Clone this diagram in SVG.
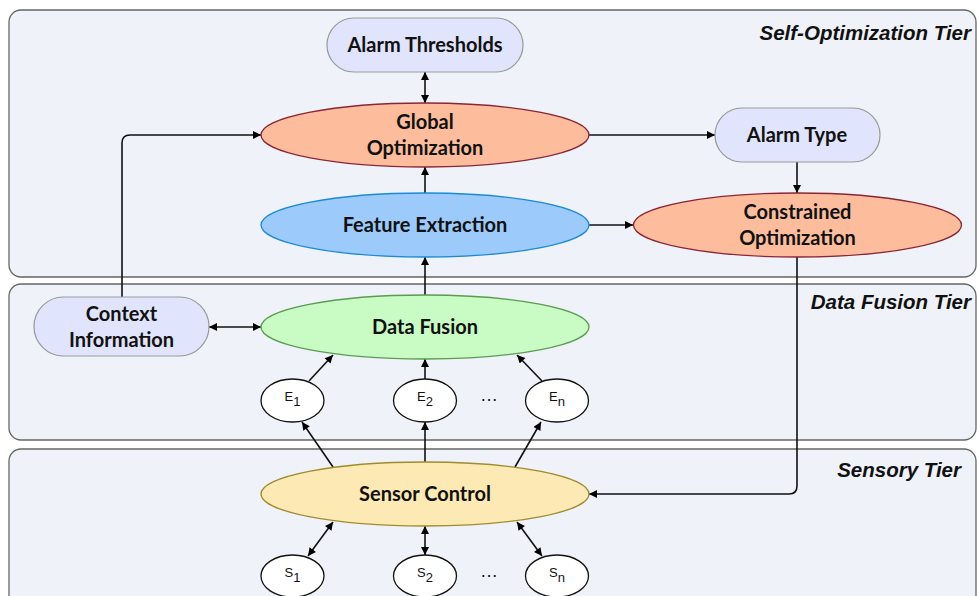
<svg xmlns="http://www.w3.org/2000/svg" width="977" height="596" viewBox="0 0 977 596">
<defs>
<marker id="ah" viewBox="0 0 10 10" refX="10" refY="5" markerWidth="9" markerHeight="8" markerUnits="userSpaceOnUse" orient="auto-start-reverse">
<path d="M0,0 L10,5 L0,10 Z" fill="#000"/>
</marker>
<style>
.tier{fill:#eff2f8;stroke:#666;stroke-width:1.3}
.tl{font-family:"Liberation Sans",Arial,sans-serif;font-weight:bold;font-style:italic;font-size:20.5px;fill:#111;text-anchor:end}
.nt{font-family:Lato,"Liberation Sans",sans-serif;font-weight:bold;font-size:20px;fill:#111;text-anchor:middle}
.st{font-family:"Liberation Sans",Arial,sans-serif;font-size:13px;fill:#111;text-anchor:middle}
.dt{font-family:"Liberation Sans",Arial,sans-serif;font-size:18px;fill:#111;text-anchor:middle}
.rr{fill:#e0e4fc;stroke:#999;stroke-width:1.2}
.sm{fill:#fff;stroke:#111;stroke-width:1.3}
.c{fill:none;stroke:#111;stroke-width:1.6}
.a{marker-end:url(#ah)}
.b{marker-start:url(#ah);marker-end:url(#ah)}
</style>
</defs>
<g id="tiers">
<rect class="tier" x="9" y="10" width="967" height="267" rx="12"/>
<rect class="tier" x="9" y="284" width="967" height="156" rx="12"/>
<rect class="tier" x="9" y="449" width="967" height="170" rx="12"/>
<text class="tl" x="971" y="40">Self-Optimization Tier</text>
<text class="tl" x="971" y="309">Data Fusion Tier</text>
<text class="tl" x="961" y="477">Sensory Tier</text>
</g>
<g id="connectors">
<line class="c b" x1="425" y1="72" x2="425" y2="103"/>
<path class="c a" d="M122,297 V143 Q122,135 130,135 H261"/>
<line class="c a" x1="589" y1="135" x2="715" y2="135"/>
<line class="c a" x1="797" y1="162" x2="797" y2="193"/>
<line class="c a" x1="589" y1="225" x2="633" y2="225"/>
<line class="c a" x1="425" y1="193" x2="425" y2="167"/>
<line class="c a" x1="425" y1="295" x2="425" y2="257"/>
<line class="c b" x1="209" y1="327" x2="261" y2="327"/>
<line class="c a" x1="309" y1="381" x2="333" y2="355"/>
<line class="c a" x1="425" y1="379" x2="425" y2="359"/>
<line class="c a" x1="542" y1="381" x2="517" y2="355"/>
<line class="c a" x1="333" y1="467" x2="302" y2="422"/>
<line class="c a" x1="425" y1="462" x2="425" y2="422"/>
<line class="c a" x1="515" y1="467" x2="541" y2="422"/>
<path class="c a" d="M797,257 V486 Q797,494 789,494 H589"/>
<line class="c b" x1="333" y1="522" x2="308" y2="556"/>
<line class="c b" x1="425" y1="526" x2="425" y2="555"/>
<line class="c b" x1="517" y1="522" x2="542" y2="556"/>
</g>
<g id="alarm-thresholds">
<rect class="rr" x="327" y="18" width="196" height="54" rx="27"/>
<text class="nt" x="425" y="52">Alarm Thresholds</text>
</g>
<g id="global-optimization">
<ellipse cx="425" cy="135" rx="164" ry="32" fill="#fdbd9d" stroke="#8b2535" stroke-width="1.3"/>
<text class="nt" x="425" y="129">Global</text>
<text class="nt" x="425" y="155">Optimization</text>
</g>
<g id="alarm-type">
<rect class="rr" x="715" y="108" width="165" height="54" rx="27"/>
<text class="nt" x="797" y="142">Alarm Type</text>
</g>
<g id="feature-extraction">
<ellipse cx="425" cy="225" rx="164" ry="32" fill="#9ccbfb" stroke="#1a8ad8" stroke-width="1.3"/>
<text class="nt" x="425" y="232">Feature Extraction</text>
</g>
<g id="constrained-optimization">
<ellipse cx="797.5" cy="225" rx="164" ry="32" fill="#fdbd9d" stroke="#8b2535" stroke-width="1.3"/>
<text class="nt" x="797.5" y="219">Constrained</text>
<text class="nt" x="797.5" y="245">Optimization</text>
</g>
<g id="context-information">
<rect class="rr" x="34" y="297" width="175" height="59" rx="29.5"/>
<text class="nt" x="121.5" y="321">Context</text>
<text class="nt" x="121.5" y="347">Information</text>
</g>
<g id="data-fusion">
<ellipse cx="425" cy="327" rx="164" ry="32" fill="#c9fbc4" stroke="#5a9c50" stroke-width="1.3"/>
<text class="nt" x="425" y="334">Data Fusion</text>
</g>
<g id="e1">
<ellipse class="sm" cx="292.5" cy="400.5" rx="31.5" ry="21.5"/>
<text class="st" x="292.5" y="401">E<tspan dy="5">1</tspan></text>
</g>
<g id="e2">
<ellipse class="sm" cx="425" cy="400.5" rx="31.5" ry="21.5"/>
<text class="st" x="425" y="401">E<tspan dy="5">2</tspan></text>
</g>
<g id="en">
<ellipse class="sm" cx="557" cy="400.5" rx="31.5" ry="21.5"/>
<text class="st" x="557" y="401">E<tspan dy="5">n</tspan></text>
</g>
<text class="dt" x="489" y="401">…</text>
<g id="sensor-control">
<ellipse cx="425" cy="494" rx="164" ry="32" fill="#fde9b4" stroke="#a08c30" stroke-width="1.3"/>
<text class="nt" x="425" y="501">Sensor Control</text>
</g>
<g id="s1">
<ellipse class="sm" cx="292.5" cy="576" rx="31.5" ry="21"/>
<text class="st" x="292.5" y="577">S<tspan dy="5">1</tspan></text>
</g>
<g id="s2">
<ellipse class="sm" cx="425" cy="576" rx="31.5" ry="21"/>
<text class="st" x="425" y="577">S<tspan dy="5">2</tspan></text>
</g>
<g id="sn">
<ellipse class="sm" cx="557" cy="576" rx="31.5" ry="21"/>
<text class="st" x="557" y="577">S<tspan dy="5">n</tspan></text>
</g>
<text class="dt" x="489" y="577">…</text>
</svg>
